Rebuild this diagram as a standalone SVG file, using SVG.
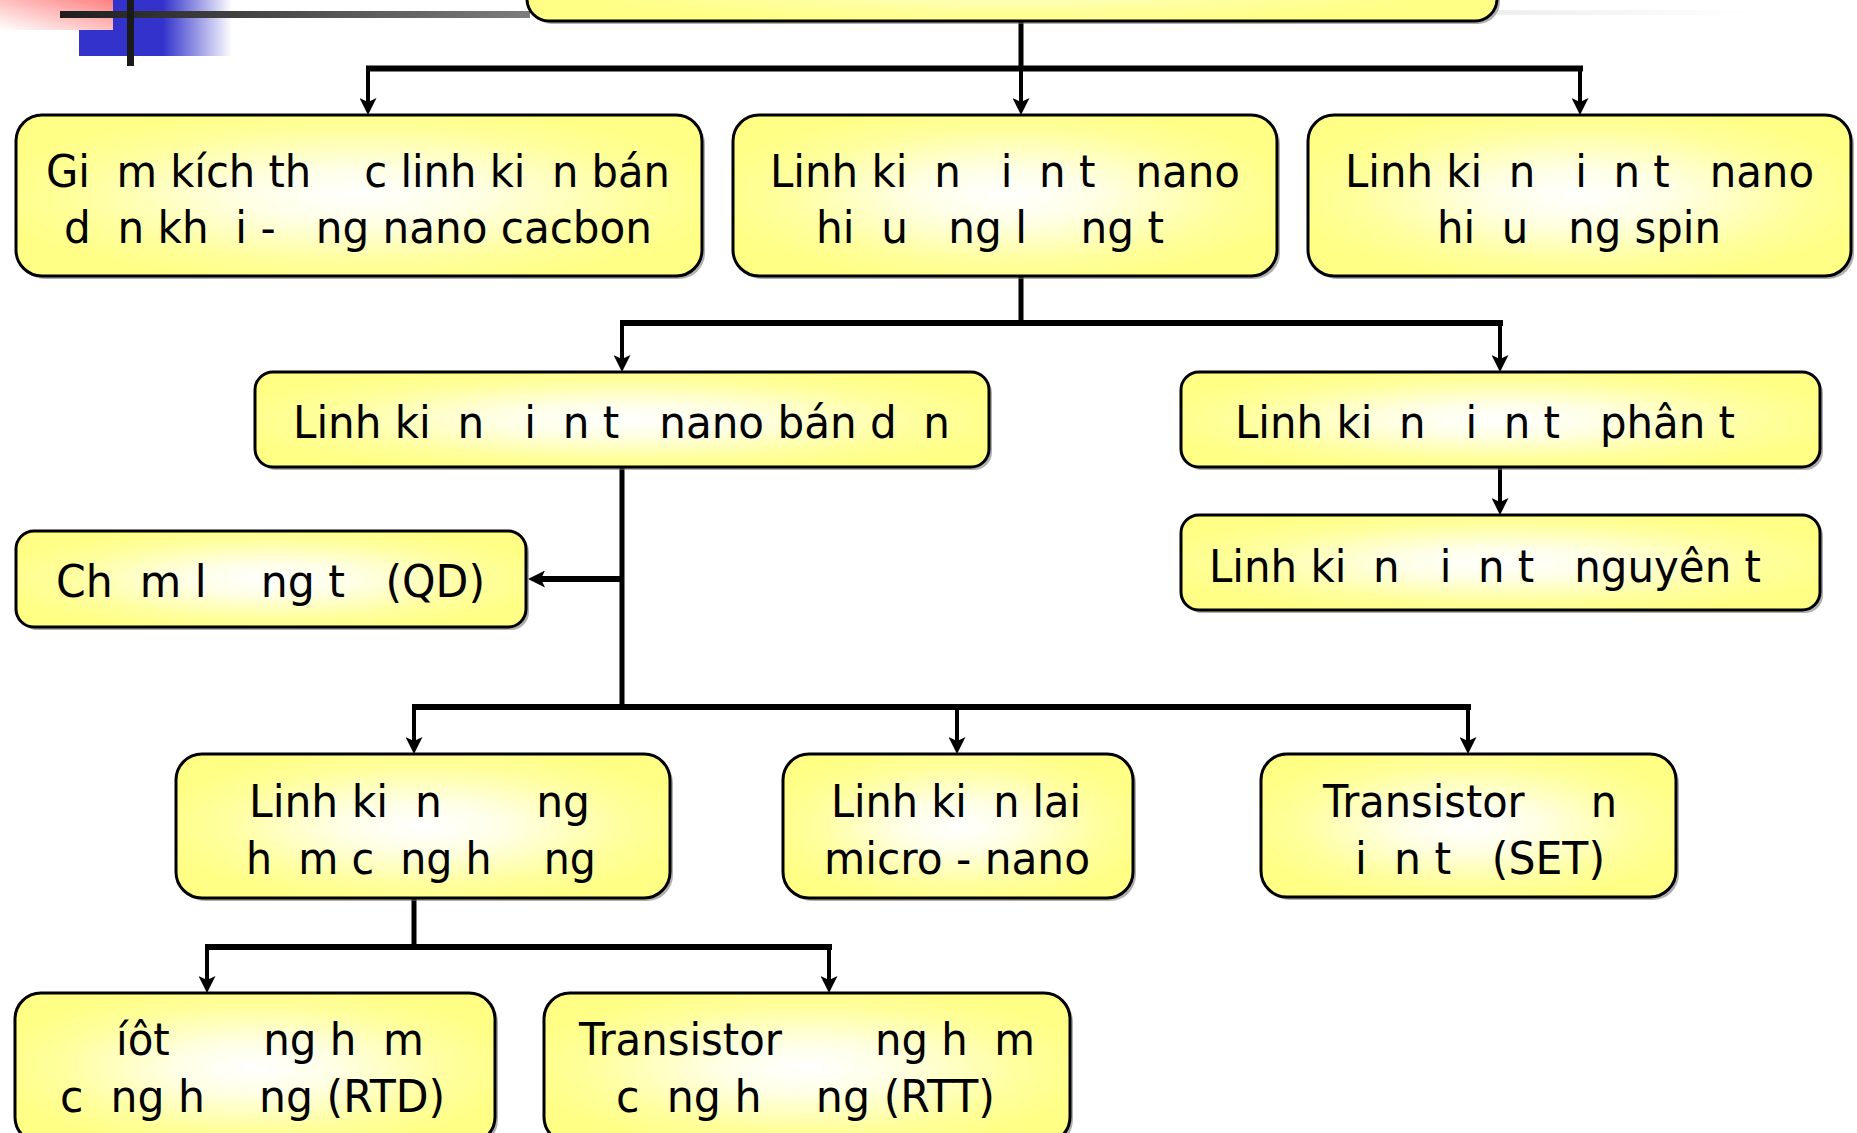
<svg xmlns="http://www.w3.org/2000/svg" width="1857" height="1133" viewBox="0 0 1857 1133">
<style>
.box{fill:url(#yg);stroke:#000;stroke-width:3}
.sh{fill:#6f6f6f;opacity:.55}
.t{font-family:"DejaVu Sans","Liberation Sans",sans-serif;font-size:45px;fill:#000}
.c{stroke:#000;fill:none;stroke-linecap:butt}
.bar{stroke-width:6}
.stem{stroke-width:4}
.trunk{stroke-width:5}
</style>
<defs>
<radialGradient id="yg" cx="50%" cy="50%" r="55%">
<stop offset="0" stop-color="#ffffff"/>
<stop offset="0.3" stop-color="#ffffe6"/>
<stop offset="0.75" stop-color="#ffff9c"/>
<stop offset="1" stop-color="#ffff86"/>
</radialGradient>
<linearGradient id="blueg" x1="0" y1="0" x2="1" y2="0">
<stop offset="0" stop-color="#3333cc"/>
<stop offset="0.55" stop-color="#3333cc"/>
<stop offset="1" stop-color="#3333cc" stop-opacity="0"/>
</linearGradient>
<linearGradient id="redg" x1="0" y1="1" x2="1" y2="0">
<stop offset="0" stop-color="#ffffff"/>
<stop offset="1" stop-color="#ff8080"/>
</linearGradient>
<linearGradient id="grayg" x1="0" y1="0" x2="1" y2="0">
<stop offset="0" stop-color="#1e1e1e"/>
<stop offset="1" stop-color="#7d7d7d"/>
</linearGradient>
<linearGradient id="fadeg" x1="0" y1="0" x2="1" y2="0">
<stop offset="0" stop-color="#eeeeee"/>
<stop offset="1" stop-color="#ffffff"/>
</linearGradient>
<marker id="ah" markerUnits="userSpaceOnUse" viewBox="0 0 17 17" refX="5" refY="8.5" markerWidth="17" markerHeight="17" orient="auto">
<path d="M0,0 L17,8.5 L0,17 L4,8.5 Z" fill="#000"/>
</marker>
</defs>
<rect width="1857" height="1133" fill="#fff"/>
<g id="decoration">
<rect x="79" y="0" width="153" height="56" fill="url(#blueg)"/>
<rect x="0" y="0" width="113" height="30" fill="url(#redg)"/>
<rect x="60" y="11" width="470" height="7" fill="url(#grayg)"/>
<rect x="1497" y="10" width="255" height="5" fill="url(#fadeg)"/>
<rect x="127" y="0" width="7" height="66" fill="#1a1a1a"/>
</g>
<g id="connectors">
<line class="c trunk" x1="1021" y1="21" x2="1021" y2="68"/>
<line class="c bar" x1="366" y1="68.5" x2="1583" y2="68.5"/>
<line class="c stem" x1="368" y1="68" x2="368" y2="103" marker-end="url(#ah)"/>
<line class="c stem" x1="1021" y1="68" x2="1021" y2="103" marker-end="url(#ah)"/>
<line class="c stem" x1="1580" y1="68" x2="1580" y2="103" marker-end="url(#ah)"/>
<line class="c trunk" x1="1021" y1="276" x2="1021" y2="323"/>
<line class="c bar" x1="620" y1="323" x2="1503" y2="323"/>
<line class="c stem" x1="622" y1="323" x2="622" y2="360" marker-end="url(#ah)"/>
<line class="c stem" x1="1500" y1="323" x2="1500" y2="360" marker-end="url(#ah)"/>
<line class="c stem" x1="1500" y1="467" x2="1500" y2="503" marker-end="url(#ah)"/>
<line class="c trunk" x1="622" y1="467" x2="622" y2="710"/>
<line class="c bar" x1="622" y1="579" x2="540" y2="579" marker-end="url(#ah)"/>
<line class="c bar" x1="412" y1="707" x2="1471" y2="707"/>
<line class="c stem" x1="414" y1="707" x2="414" y2="742" marker-end="url(#ah)"/>
<line class="c stem" x1="957" y1="707" x2="957" y2="742" marker-end="url(#ah)"/>
<line class="c stem" x1="1468" y1="707" x2="1468" y2="742" marker-end="url(#ah)"/>
<line class="c trunk" x1="414" y1="898" x2="414" y2="947"/>
<line class="c bar" x1="205" y1="947" x2="832" y2="947"/>
<line class="c stem" x1="207" y1="947" x2="207" y2="981" marker-end="url(#ah)"/>
<line class="c stem" x1="829" y1="947" x2="829" y2="981" marker-end="url(#ah)"/>
</g>
<g id="n0">
<rect class="sh" x="530" y="-97" width="970" height="121" rx="22"/>
<rect class="box" x="527" y="-100" width="970" height="121" rx="22"/>
</g>
<g id="n1">
<rect class="sh" x="19" y="118" width="686" height="161" rx="26"/>
<rect class="box" x="16" y="115" width="686" height="161" rx="26"/>
<text class="t" xml:space="preserve" x="46" y="187" textLength="624" lengthAdjust="spacingAndGlyphs">Gi  m kích th    c linh ki  n bán</text>
<text class="t" xml:space="preserve" x="64" y="243" textLength="588" lengthAdjust="spacingAndGlyphs">d  n kh  i -   ng nano cacbon</text>
</g>
<g id="n2">
<rect class="sh" x="736" y="118" width="544" height="161" rx="26"/>
<rect class="box" x="733" y="115" width="544" height="161" rx="26"/>
<text class="t" xml:space="preserve" x="770" y="187" textLength="470" lengthAdjust="spacingAndGlyphs">Linh ki  n   i  n t   nano</text>
<text class="t" xml:space="preserve" x="816" y="243" textLength="348" lengthAdjust="spacingAndGlyphs">hi  u   ng l    ng t</text>
</g>
<g id="n3">
<rect class="sh" x="1311" y="118" width="543" height="161" rx="26"/>
<rect class="box" x="1308" y="115" width="543" height="161" rx="26"/>
<text class="t" xml:space="preserve" x="1345" y="187" textLength="469" lengthAdjust="spacingAndGlyphs">Linh ki  n   i  n t   nano</text>
<text class="t" xml:space="preserve" x="1437" y="243" textLength="284" lengthAdjust="spacingAndGlyphs">hi  u   ng spin</text>
</g>
<g id="n4">
<rect class="sh" x="258" y="375" width="734" height="95" rx="18"/>
<rect class="box" x="255" y="372" width="734" height="95" rx="18"/>
<text class="t" xml:space="preserve" x="293" y="438" textLength="657" lengthAdjust="spacingAndGlyphs">Linh ki  n   i  n t   nano bán d  n</text>
</g>
<g id="n5">
<rect class="sh" x="1184" y="375" width="639" height="95" rx="18"/>
<rect class="box" x="1181" y="372" width="639" height="95" rx="18"/>
<text class="t" xml:space="preserve" x="1235" y="438" textLength="500" lengthAdjust="spacingAndGlyphs">Linh ki  n   i  n t   phân t</text>
</g>
<g id="n6">
<rect class="sh" x="1184" y="518" width="639" height="95" rx="18"/>
<rect class="box" x="1181" y="515" width="639" height="95" rx="18"/>
<text class="t" xml:space="preserve" x="1209" y="582" textLength="552" lengthAdjust="spacingAndGlyphs">Linh ki  n   i  n t   nguyên t</text>
</g>
<g id="n7">
<rect class="sh" x="19" y="534" width="510" height="96" rx="18"/>
<rect class="box" x="16" y="531" width="510" height="96" rx="18"/>
<text class="t" xml:space="preserve" x="56" y="597" textLength="429" lengthAdjust="spacingAndGlyphs">Ch  m l    ng t   (QD)</text>
</g>
<g id="n8">
<rect class="sh" x="179" y="757" width="494" height="144" rx="26"/>
<rect class="box" x="176" y="754" width="494" height="144" rx="26"/>
<text class="t" xml:space="preserve" x="249" y="817" textLength="341" lengthAdjust="spacingAndGlyphs">Linh ki  n       ng</text>
<text class="t" xml:space="preserve" x="246" y="874" textLength="350" lengthAdjust="spacingAndGlyphs">h  m c  ng h    ng</text>
</g>
<g id="n9">
<rect class="sh" x="786" y="757" width="350" height="144" rx="26"/>
<rect class="box" x="783" y="754" width="350" height="144" rx="26"/>
<text class="t" xml:space="preserve" x="831" y="817" textLength="250" lengthAdjust="spacingAndGlyphs">Linh ki  n lai</text>
<text class="t" xml:space="preserve" x="824" y="874" textLength="266" lengthAdjust="spacingAndGlyphs">micro - nano</text>
</g>
<g id="n10">
<rect class="sh" x="1264" y="757" width="415" height="143" rx="26"/>
<rect class="box" x="1261" y="754" width="415" height="143" rx="26"/>
<text class="t" xml:space="preserve" x="1323" y="817" textLength="294" lengthAdjust="spacingAndGlyphs">Transistor     n</text>
<text class="t" xml:space="preserve" x="1355" y="874" textLength="250" lengthAdjust="spacingAndGlyphs">i  n t   (SET)</text>
</g>
<g id="n11">
<rect class="sh" x="18" y="996" width="480" height="150" rx="26"/>
<rect class="box" x="15" y="993" width="480" height="150" rx="26"/>
<text class="t" xml:space="preserve" x="116" y="1055" textLength="308" lengthAdjust="spacingAndGlyphs">íôt       ng h  m</text>
<text class="t" xml:space="preserve" x="60" y="1112" textLength="385" lengthAdjust="spacingAndGlyphs">c  ng h    ng (RTD)</text>
</g>
<g id="n12">
<rect class="sh" x="547" y="996" width="526" height="150" rx="26"/>
<rect class="box" x="544" y="993" width="526" height="150" rx="26"/>
<text class="t" xml:space="preserve" x="579" y="1055" textLength="456" lengthAdjust="spacingAndGlyphs">Transistor       ng h  m</text>
<text class="t" xml:space="preserve" x="616" y="1112" textLength="379" lengthAdjust="spacingAndGlyphs">c  ng h    ng (RTT)</text>
</g>
</svg>
